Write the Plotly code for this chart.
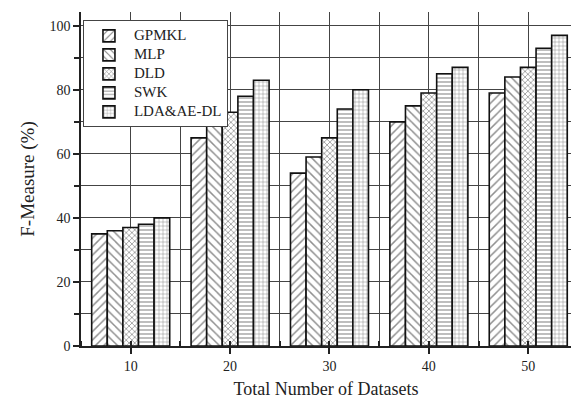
import plotly.graph_objects as go

datasets = [10, 20, 30, 40, 50]
series_names = ["GPMKL", "MLP", "DLD", "SWK", "LDA&AE-DL"]
gpmkl = [35, 65, 54, 70, 79]
mlp = [36, 69, 59, 75, 84]
dld = [37, 73, 65, 79, 87]
swk = [38, 78, 74, 85, 93]
lda_ae_dl = [40, 83, 80, 87, 97]
series_values = [gpmkl, mlp, dld, swk, lda_ae_dl]
y_ticks = [0, 20, 40, 60, 80, 100]

patterns = [
    dict(shape="/", size=6, solidity=0.25),
    dict(shape="\\", size=6, solidity=0.25),
    dict(shape="x", size=4, solidity=0.35),
    dict(shape="-", size=4, solidity=0.3),
    dict(shape="+", size=4, solidity=0.25),
]

fig = go.Figure()
for name, vals, pat in zip(series_names, series_values, patterns):
    fig.add_trace(go.Bar(
        x=datasets, y=vals,
        name='<span style="font-size:15px">' + name.replace("&", "&amp;") + "</span>",
        marker=dict(color="white",
                    line=dict(color="#111", width=1.6),
                    pattern=dict(fgcolor="#222", bgcolor="white", fillmode="overlay", **pat)),
    ))

font_family = "Liberation Serif, Times New Roman, serif"
fig.update_layout(
    width=571, height=399,
    margin=dict(l=81, r=0, t=12, b=51),
    paper_bgcolor="white", plot_bgcolor="white",
    barmode="group", bargap=0.215, bargroupgap=0,
    font=dict(family=font_family, size=14, color="#222"),
    showlegend=True,
    legend=dict(x=0.004, y=0.975, xanchor="left", yanchor="top",
                bordercolor="#444", borderwidth=1, bgcolor="white",
                font=dict(size=11, family=font_family), tracegroupgap=0,
                itemwidth=40),
    xaxis=dict(range=[5.0, 54.3], tickvals=datasets, ticks="outside", ticklen=6,
               tickwidth=1.5, tickcolor="#222", showline=True, linecolor="#222",
               linewidth=1.5, showgrid=False, zeroline=False,
               minor=dict(dtick=5, tick0=0, ticks="inside", ticklen=5, tickcolor="#222",
                          showgrid=True, gridcolor="#444", gridwidth=1.3),
               title=dict(text="Total Number of Datasets", font=dict(size=18), standoff=13),
               tickfont=dict(size=14)),
    yaxis=dict(range=[0, 104.3], tickvals=y_ticks, ticks="outside", ticklen=6,
               tickwidth=1.5, tickcolor="#222", showline=True, linecolor="#222",
               linewidth=1.5, showgrid=False, zeroline=False,
               minor=dict(dtick=10, tick0=0, ticks="outside", ticklen=5, tickcolor="#222",
                          showgrid=True, gridcolor="#444", gridwidth=1.3),
               title=dict(text="F-Measure (%)", font=dict(size=19), standoff=10),
               tickfont=dict(size=14)),
)

fig.write_html("out.html")
